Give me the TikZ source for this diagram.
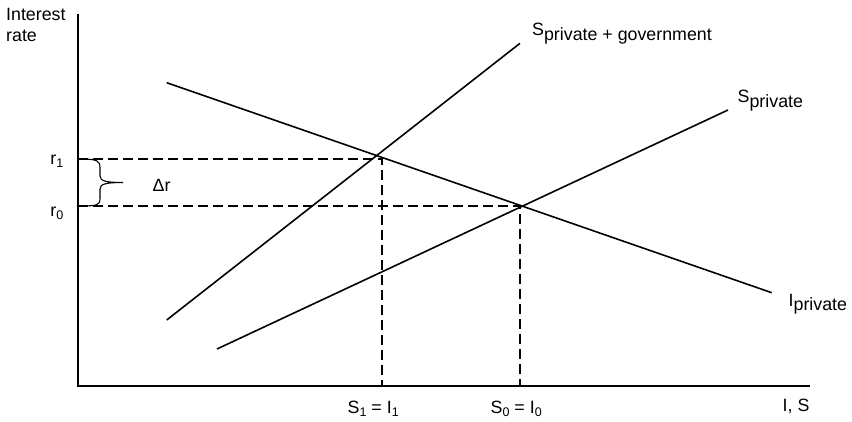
\documentclass[tikz,border=0pt]{standalone}
\usepackage{fontspec}
\setmainfont{Liberation Sans}
\usetikzlibrary{positioning}
\newcommand{\lowtxt}[1]{\raisebox{-5pt}{#1}}
\newcommand{\lownum}[1]{\raisebox{-3pt}{\fontsize{12.5}{12.5}\selectfont #1}}

\begin{document}
\begin{tikzpicture}[x=1pt, y=-1pt, line width=1.4pt,
  every node/.style={inner sep=0pt, font=\fontsize{17.8}{21}\selectfont},
  curve/.style={line width=1.6pt},
  guide/.style={line width=1.1pt, dash pattern=on 10pt off 5pt}]
\useasboundingbox (0,0) rectangle (852,422);
% axes
\coordinate (top) at (78,14);
\coordinate (O) at (78,386);
\coordinate (right) at (810,386);
\draw (top) -- (O) -- (right);
\node[anchor=north west, align=left] (ylab) at (5.5,7.3) {Interest\\rate};
\node[anchor=base west] (xlab) at (782,411) {I, S};
% investment and saving lines
\draw[curve] (166.7,82.7) -- (771.7,292.7);
\draw[curve] (166.7,320) -- (520,43.3);
\draw[curve] (217,349) -- (728,110);
\node[anchor=base west] (spg) at (531.5,35.5) {S\lowtxt{private + government}};
\node[anchor=base west] (sp) at (737,103) {S\lowtxt{private}};
\node[anchor=base west] (ip) at (788,306) {I\raisebox{-4pt}{private}};
% equilibria
\coordinate (E1) at (382,159);
\coordinate (E0) at (520,206);
\draw[guide] (O |- E1) -- (E1) -- (E1 |- O);
\draw[guide] (O |- E0) -- (E0) -- (E0 |- O);
\node[anchor=base east] (r1) at (64,165) {r\lownum{1}};
\node[anchor=base east] (r0) at (64,217) {r\lownum{0}};
\node[anchor=base west] (s1) at (347,413) {S\lownum{1} = I\lownum{1}};
\node[anchor=base west] (s0) at (490,413) {S\lownum{0} = I\lownum{0}};
% brace for the rise in r
\draw[line width=1.1pt] (80,159) .. controls (98,159) and (100,161) .. (100,168) -- (100,176)
  .. controls (100,181) and (106,182.5) .. (123,182.5)
  .. controls (106,182.5) and (100,184) .. (100,189) -- (100,198)
  .. controls (100,205) and (98,206) .. (80,206);
\node[anchor=base west] (dr) at (152,192) {Δr};
\end{tikzpicture}
\end{document}
